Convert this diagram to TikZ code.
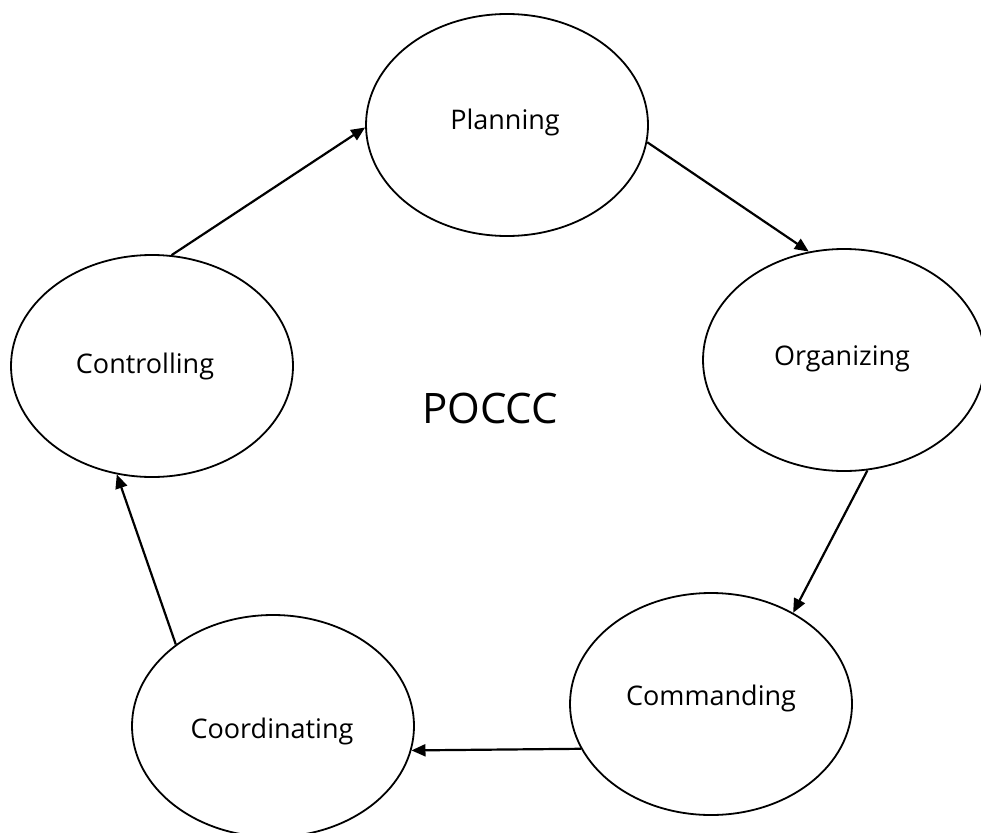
\documentclass[tikz,border=0pt]{standalone}
\usepackage{fontspec}
\setmainfont{Open Sans}
\usetikzlibrary{shapes.geometric,arrows.meta}
\begin{document}
\begin{tikzpicture}[x=1pt,y=-1pt,
  stage/.style={draw=black,line width=1.8pt,ellipse,minimum width=282pt,minimum height=222pt,inner sep=0pt},
  stagetext/.style={inner sep=0pt,font=\fontsize{27}{30}\selectfont},
  flow/.style={line width=2.2pt,-{Triangle[length=14pt,width=12pt]}}]
\useasboundingbox (0,0) rectangle (981,832);
\node[stage] (P) at (507,125) {};
\node[stage] (O) at (844,360) {};
\node[stage] (M) at (711,704) {};
\node[stage] (D) at (273,726) {};
\node[stage] (C) at (152,366) {};
\node[stagetext] (Pt) at (505,122) {Planning};
\node[stagetext] (Ot) at (842,359) {Organizing};
\node[stagetext] (Mt) at (711,698) {Commanding};
\node[stagetext] (Dt) at (272,731) {Coordinating};
\node[stagetext] (Ct) at (145,366) {Controlling};
\node[font=\fontsize{42}{48}\selectfont] (T) at (490,408) {POCCC};
\draw[flow] (C.80) -- (P.181);
\draw[flow] (P.-7) -- (O.108);
\draw[flow] (O.-78) -- (M.48);
\draw[flow] (M.199) -- (D.-10);
\draw[flow] (D.140) -- (C.252);
\end{tikzpicture}
\end{document}
